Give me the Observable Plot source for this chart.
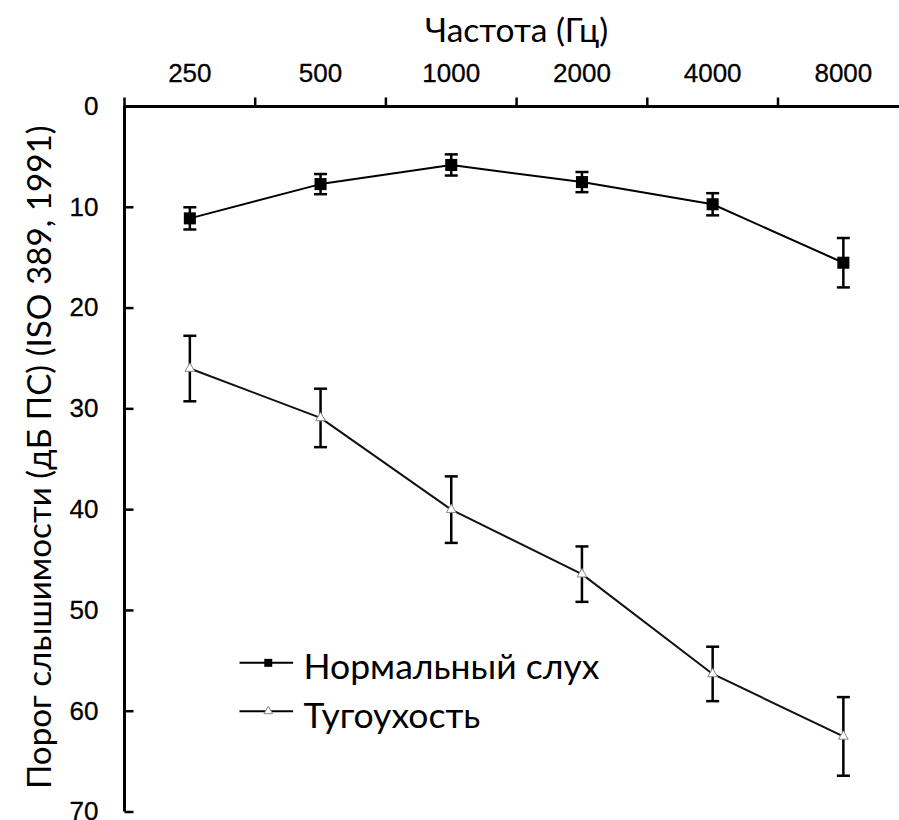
<!DOCTYPE html>
<html>
<head>
<meta charset="utf-8">
<script src="https://cdn.jsdelivr.net/npm/d3@7"></script>
<script src="https://cdn.jsdelivr.net/npm/@observablehq/plot@0.6"></script>
<style>
  html, body { margin: 0; padding: 0; background: #fff; overflow: hidden; }
  #chart svg { display: block; }
</style>
</head>
<body>
<div id="chart"></div>
<script>
// ---- data ----
const freqLabels = ["250", "500", "1000", "2000", "4000", "8000"];
const normalMean = [11.1, 7.7, 5.8, 7.5, 9.7, 15.5];
const normalErr  = [1.1, 1.0, 1.05, 1.0, 1.1, 2.45];
const lossMean   = [26.0, 30.9, 40.0, 46.4, 56.3, 62.5];
const lossErr    = [3.25, 2.9, 3.3, 2.75, 2.7, 3.9];
const yTicks     = [0, 10, 20, 30, 40, 50, 60, 70];
const seriesNames = ["Нормальный слух", "Тугоухость"];
const xTitle = "Частота (Гц)";
const yTitle = "Порог слышимости (дБ ПС) (ISO 389, 1991)";

// ---- tables built from the arrays ----
const mk = (mean, err) => freqLabels.map((f, i) => ({
  freq: f, xi: i + 0.5, mean: mean[i], lo: mean[i] - err[i], hi: mean[i] + err[i]
}));
const normal = mk(normalMean, normalErr);
const loss = mk(lossMean, lossErr);
const bounds = d3.range(freqLabels.length + 1);
const xDomain = [0, freqLabels.length];

// legend placement (in scale units)
const legend = seriesNames.map((name, i) => ({name, ly: [55.2, 60.0][i]}));
const legX1 = 0.88, legX2 = 1.29, legXM = 1.10, legXT = 1.37;

// custom pixel-sized symbols for caps and ticks
const len = size => Math.sqrt(size / Math.PI);
const hCap = {draw(c, s) { const r = len(s); c.moveTo(-r, 0); c.lineTo(r, 0); }};
const rightTick = {draw(c, s) { const r = len(s); c.moveTo(0, 0); c.lineTo(r, 0); }};
const upTick = {draw(c, s) { const r = len(s); c.moveTo(0, 0); c.lineTo(0, -r); }};

const labelFont = "Lato, 'Open Sans', sans-serif";
const tickFont = "'Liberation Sans', Arial, sans-serif";

const chart = Plot.plot({
  width: 899,
  height: 820,
  marginTop: 106,
  marginBottom: 8.5,
  marginLeft: 124,
  marginRight: 0,
  style: {background: "#fff", color: "#000", overflow: "hidden"},
  x: {domain: xDomain, range: [124, 908.2], axis: null},
  y: {domain: [0, 70], range: [106, 811.5], axis: null},
  marks: [
    // axis lines
    Plot.ruleY([0], {stroke: "#000", strokeWidth: 3}),
    Plot.ruleX([0], {stroke: "#000", strokeWidth: 3}),
    // x ticks at category boundaries (pointing up)
    Plot.dot(bounds, {x: d => d, y: 0, symbol: upTick, r: 9, fill: "none", stroke: "#000", strokeWidth: 2.5}),
    // y ticks (pointing right)
    Plot.dot(yTicks.slice(1), {x: 0, y: d => d, symbol: rightTick, r: 9, fill: "none", stroke: "#000", strokeWidth: 2.5}),
    // tick labels
    Plot.text(freqLabels, {x: (d, i) => i + 0.5, frameAnchor: "top", lineAnchor: "bottom", dy: -25,
      text: d => d, fontFamily: tickFont, fontSize: 26, fill: "#000", stroke: "#000", strokeWidth: 0.3}),
    Plot.text(yTicks, {x: 0, y: d => d, text: d => String(d), textAnchor: "end", lineAnchor: "middle", dx: -26,
      fontFamily: tickFont, fontSize: 26, fill: "#000", stroke: "#000", strokeWidth: 0.3}),
    // titles
    Plot.text([xTitle], {x: () => d3.mean(xDomain), frameAnchor: "top", lineAnchor: "bottom", dy: -65,
      fontFamily: labelFont, fontSize: 33.5, fill: "#000"}),
    Plot.text([yTitle], {frameAnchor: "left", textAnchor: "middle", rotate: -90, lineAnchor: "bottom", dx: -74, dy: -2,
      fontFamily: labelFont, fontSize: 33.2, fill: "#000"}),
    // series lines
    Plot.line(normal, {x: "xi", y: "mean", stroke: "#000", strokeWidth: 2}),
    Plot.line(loss, {x: "xi", y: "mean", stroke: "#111", strokeWidth: 2}),
    // error bars
    Plot.ruleX(normal, {x: "xi", y1: "lo", y2: "hi", stroke: "#000", strokeWidth: 2.5}),
    Plot.ruleX(loss, {x: "xi", y1: "lo", y2: "hi", stroke: "#000", strokeWidth: 2.5}),
    Plot.dot(normal.concat(loss), {x: "xi", y: "lo", symbol: hCap, r: 6.5, fill: "none", stroke: "#000", strokeWidth: 2.5}),
    Plot.dot(normal.concat(loss), {x: "xi", y: "hi", symbol: hCap, r: 6.5, fill: "none", stroke: "#000", strokeWidth: 2.5}),
    // markers
    Plot.dot(normal, {x: "xi", y: "mean", symbol: "square", r: 6.8, fill: "#000", stroke: "none"}),
    Plot.dot(loss, {x: "xi", y: "mean", symbol: "triangle", r: 3.6, fill: "#fff", stroke: "#888", strokeWidth: 1}),
    // legend
    Plot.link(legend, {x1: legX1, x2: legX2, y1: "ly", y2: "ly", stroke: "#000", strokeWidth: 2}),
    Plot.dot(legend.slice(0, 1), {x: legXM, y: "ly", symbol: "square", r: 4.5, fill: "#000", stroke: "none"}),
    Plot.dot(legend.slice(1), {x: legXM, y: "ly", symbol: "triangle", r: 3.2, fill: "#fff", stroke: "#888", strokeWidth: 1}),
    Plot.text(legend, {x: legXT, y: "ly", text: "name", textAnchor: "start", lineAnchor: "middle", dy: 5,
      fontFamily: labelFont, fontSize: 35.5, fill: "#000"})
  ]
});
document.getElementById("chart").appendChild(chart);
</script>
</body>
</html>
